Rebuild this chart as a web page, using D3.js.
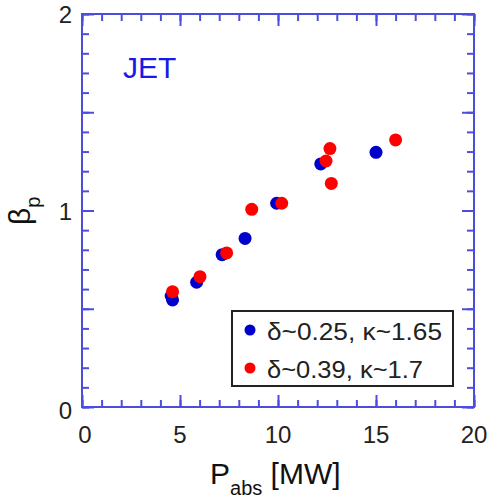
<!DOCTYPE html>
<html>
<head>
<meta charset="utf-8">
<script src="https://cdn.jsdelivr.net/npm/d3@7"></script>
<style>
  body { margin: 0; background: #fff; }
  svg { display: block; font-family: "Liberation Sans", Arial, sans-serif; }
</style>
</head>
<body>
<svg width="491" height="502"></svg>
<script>
// data: [P_abs (MW), beta_p]
var seriesLow = [[4.55, 0.565], [4.62, 0.545], [5.85, 0.635], [7.15, 0.775],
                 [8.32, 0.858], [9.93, 1.037], [12.18, 1.237], [15.0, 1.296]];
var seriesHigh = [[4.62, 0.587], [6.02, 0.663], [7.38, 0.784], [8.66, 1.006],
                  [10.19, 1.037], [12.45, 1.252], [12.65, 1.315], [12.72, 1.138], [16.0, 1.359]];
var legendLabels = ["δ~0.25, κ~1.65", "δ~0.39, κ~1.7"];
var xTicks = [0, 5, 10, 15, 20];
var yTicks = [0, 1, 2];

var svg = d3.select("svg"),
    margin = {top: 14, right: 17, bottom: 95, left: 82},
    width = svg.attr("width") - margin.left - margin.right,
    height = svg.attr("height") - margin.top - margin.bottom;

var axisColor = "#4d4ddd";

var x = d3.scaleLinear().domain([0, 20]).range([0, width]),
    y = d3.scaleLinear().domain([0, 2]).range([height, 0]);

var g = svg.append("g")
    .attr("transform", "translate(" + margin.left + "," + margin.top + ")");

// ticks on all four sides, pointing inward
function frameAxis(axis, transform, values, size) {
  var a = g.append("g")
      .attr("transform", transform)
      .call(axis.tickValues(values).tickSize(-size).tickFormat(""));
  a.select(".domain").remove();
  a.selectAll("line").attr("stroke", axisColor).attr("stroke-width", 2);
}
var minorX = d3.range(0, 21, 1), majorX = d3.range(0, 21, 5);
var minorY = d3.range(0, 21, 1).map(function(d) { return d / 10; }),
    majorY = d3.range(0, 5, 1).map(function(d) { return d / 2; });

frameAxis(d3.axisBottom(x), "translate(0," + height + ")", minorX, 7);
frameAxis(d3.axisBottom(x), "translate(0," + height + ")", majorX, 12);
frameAxis(d3.axisTop(x), "translate(0,0)", minorX, 7);
frameAxis(d3.axisTop(x), "translate(0,0)", majorX, 12);
frameAxis(d3.axisLeft(y), "translate(0,0)", minorY, 7);
frameAxis(d3.axisLeft(y), "translate(0,0)", majorY, 12);
frameAxis(d3.axisRight(y), "translate(" + width + ",0)", minorY, 7);
frameAxis(d3.axisRight(y), "translate(" + width + ",0)", majorY, 12);

g.append("rect")
    .attr("width", width)
    .attr("height", height)
    .attr("fill", "none")
    .attr("stroke", axisColor)
    .attr("stroke-width", 2);

// tick labels
g.selectAll(".xlab")
  .data(xTicks)
  .enter().append("text")
    .attr("x", function(d) { return x(d) + (d === 0 ? 3 : 0); })
    .attr("y", height + 36)
    .attr("text-anchor", "middle")
    .style("font-size", "24px")
    .attr("fill", "#222")
    .text(function(d) { return d; });

g.selectAll(".ylab")
  .data(yTicks)
  .enter().append("text")
    .attr("x", -10)
    .attr("y", function(d) { return y(d) + 9 + (d === 0 ? 3 : 0); })
    .attr("text-anchor", "end")
    .style("font-size", "24px")
    .attr("fill", "#222")
    .text(function(d) { return d; });

// points
g.selectAll(".low")
  .data(seriesLow)
  .enter().append("circle")
    .attr("cx", function(d) { return x(d[0]); })
    .attr("cy", function(d) { return y(d[1]); })
    .attr("r", 6.5)
    .attr("fill", "#0000cc");

g.selectAll(".high")
  .data(seriesHigh)
  .enter().append("circle")
    .attr("cx", function(d) { return x(d[0]); })
    .attr("cy", function(d) { return y(d[1]); })
    .attr("r", 6.5)
    .attr("fill", "#ff0000");

// JET label
svg.append("text")
    .attr("x", 123)
    .attr("y", 78)
    .style("font-size", "30px")
    .attr("fill", "#1a1ae6")
    .text("JET");

// legend
var legendWidths = [175, 156];
var legend = svg.append("g").attr("transform", "translate(232,311)");
legend.append("rect")
    .attr("width", 221)
    .attr("height", 75)
    .attr("fill", "#fff")
    .attr("stroke", "#222")
    .attr("stroke-width", 2);
var rows = legend.selectAll(".row")
  .data(legendLabels)
  .enter().append("g")
    .attr("transform", function(d, i) { return "translate(0," + (19 + i * 38) + ")"; });
rows.append("circle")
    .attr("cx", 18)
    .attr("r", 5.5)
    .attr("fill", function(d, i) { return i === 0 ? "#0000cc" : "#ff0000"; });
rows.append("text")
    .attr("x", 35)
    .attr("y", 10)
    .attr("textLength", function(d, i) { return legendWidths[i]; })
    .attr("lengthAdjust", "spacingAndGlyphs")
    .style("font-size", "24px")
    .attr("fill", "#222")
    .text(function(d) { return d; });

// axis titles
var xt = svg.append("text")
    .attr("x", 210)
    .attr("y", 484)
    .style("font-size", "30px")
    .attr("fill", "#111");
xt.append("tspan").text("P");
xt.append("tspan").attr("dy", 11).style("font-size", "20px").text("abs");
xt.append("tspan").attr("dy", -11).text(" [MW]");

var yt = svg.append("text")
    .attr("transform", "translate(30,225) rotate(-90)")
    .style("font-size", "30px")
    .attr("fill", "#111");
yt.append("tspan").text("β");
yt.append("tspan").attr("dy", 10).style("font-size", "20px").text("p");
</script>
</body>
</html>
